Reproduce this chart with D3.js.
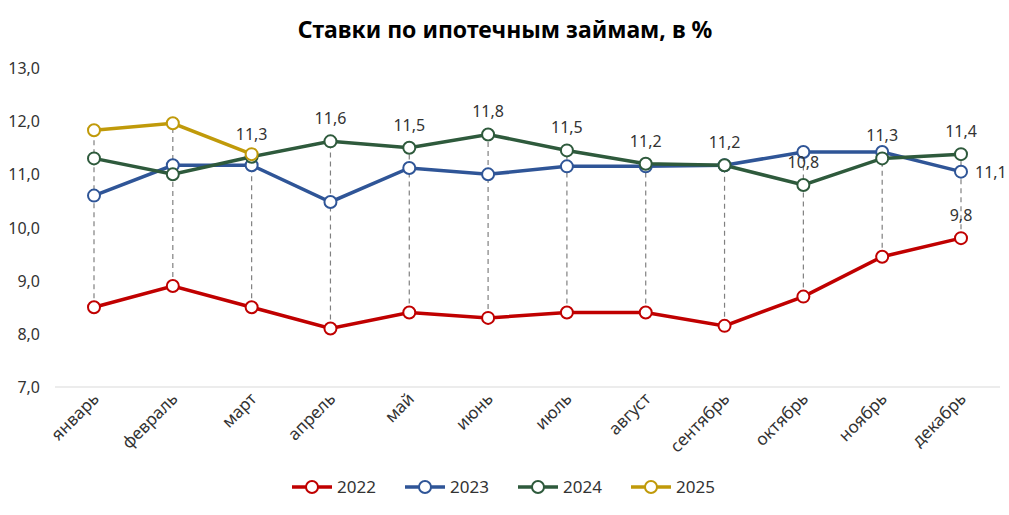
<!DOCTYPE html><html><head><meta charset="utf-8">
<script src="https://cdn.jsdelivr.net/npm/d3@7/dist/d3.min.js"></script>
<style>body{margin:0;background:#fff}text{font-family:"Noto Sans",sans-serif}</style></head><body>
<svg id="c" width="1009" height="515"></svg>
<script>
const months=["январь","февраль","март","апрель","май","июнь","июль","август","сентябрь","октябрь","ноябрь","декабрь"];
const s2022=[8.5,8.9,8.5,8.1,8.4,8.3,8.4,8.4,8.15,8.7,9.45,9.8];
const s2023=[10.6,11.17,11.17,10.48,11.12,11.0,11.15,11.15,11.17,11.42,11.42,11.05];
const s2024=[11.3,11.0,11.33,11.62,11.5,11.75,11.45,11.2,11.17,10.8,11.3,11.38];
const s2025=[11.83,11.96,11.38];
const yTicks=[7,8,9,10,11,12,13];
const series=[{name:"2022",v:s2022,c:"#c00000"},{name:"2023",v:s2023,c:"#2f5597"},{name:"2024",v:s2024,c:"#2e5a3c"},{name:"2025",v:s2025,c:"#c09a0a"}];
const svg=d3.select("#c");
const x=d3.scalePoint().domain(months).range([94,961]);
const y=d3.scaleLinear().domain([7,13]).range([387,68]);
const fmt=v=>d3.format(".1f")(v).replace(".",",");
svg.append("text").attr("x",505).attr("y",38).attr("text-anchor","middle").attr("font-size",23).attr("font-weight","bold").text("Ставки по ипотечным займам, в %");
svg.selectAll(".yt").data(yTicks).join("text").attr("x",40).attr("y",d=>y(d)+6).attr("text-anchor","end").attr("font-size",16).attr("fill","#333").text(fmt);
svg.append("line").attr("x1",55).attr("x2",1000).attr("y1",y(7)).attr("y2",y(7)).attr("stroke","#d9d9d9");
months.forEach((m,i)=>{
  const vals=series.map(s=>s.v[i]).filter(v=>v!=null);
  svg.append("line").attr("x1",x(m)).attr("x2",x(m)).attr("y1",y(d3.min(vals))).attr("y2",y(d3.max(vals))).attr("stroke","#808080").attr("stroke-dasharray","5,4").attr("stroke-width",1.2);
  svg.append("text").attr("transform",`translate(${x(m)+6},${400}) rotate(-45)`).attr("text-anchor","end").attr("font-size",17).attr("fill","#333").text(m);
});
const line=d3.line().x((d,i)=>x(months[i])).y(d=>y(d));
series.forEach(s=>{
  svg.append("path").attr("d",line(s.v)).attr("fill","none").attr("stroke",s.c).attr("stroke-width",3.5);
});
series.forEach(s=>{
  svg.selectAll(null).data(s.v).join("circle").attr("cx",(d,i)=>x(months[i])).attr("cy",d=>y(d)).attr("r",6).attr("fill","#fff").attr("stroke",s.c).attr("stroke-width",2);
});
const lab=(t,xx,yy,a)=>svg.append("text").attr("x",xx).attr("y",yy).attr("text-anchor",a||"middle").attr("font-size",16).attr("fill","#333").text(t);
s2024.forEach((v,i)=>{ if(i>=2) lab(fmt(Math.round(v*10)/10),x(months[i]),y(v)-17);});
lab("11,1",x(months[11])+14,y(s2023[11])+6,"start");
lab(fmt(s2022[11]),x(months[11]),y(s2022[11])-17);
const lg=svg.append("g");
series.forEach((s,i)=>{
  const lx=292+i*113;
  lg.append("line").attr("x1",lx).attr("x2",lx+40).attr("y1",487).attr("y2",487).attr("stroke",s.c).attr("stroke-width",3.5);
  lg.append("circle").attr("cx",lx+20).attr("cy",487).attr("r",6).attr("fill","#fff").attr("stroke",s.c).attr("stroke-width",2);
  lg.append("text").attr("x",lx+45).attr("y",493).attr("font-size",17).attr("fill","#333").text(s.name);
});
</script></body></html>
